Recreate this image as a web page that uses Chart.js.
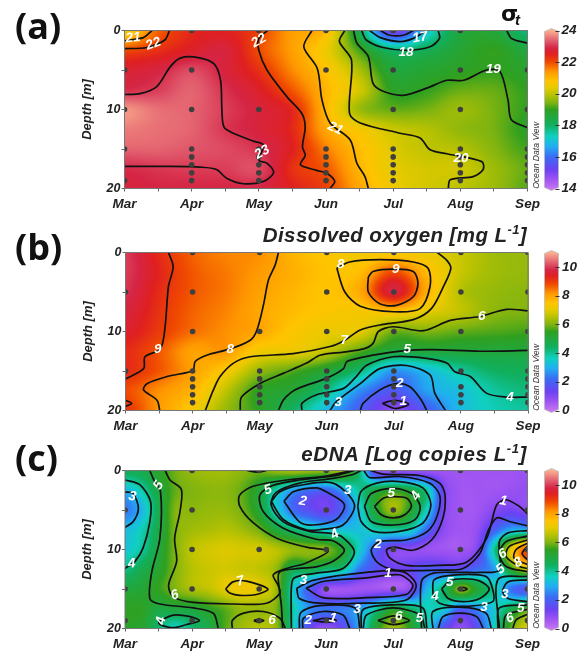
<!DOCTYPE html>
<html><head><meta charset="utf-8">
<script src="https://cdn.jsdelivr.net/npm/chart.js@4"></script>
<style>
html,body{margin:0;padding:0;background:#fff}
canvas{position:absolute;left:0;filter:blur(0.35px)}
</style></head><body>
<canvas id="a" width="585" height="216" style="top:0"></canvas>
<canvas id="b" width="585" height="218" style="top:216px"></canvas>
<canvas id="c" width="585" height="219" style="top:434px"></canvas>
<script>
const months=['Mar','Apr','May','Jun','Jul','Aug','Sep'];
const gridDepths=[0,2.5,5,7.5,10,12.5,15,17.5,20];

// sigma-t values: rows are gridDepths, columns Mar..Sep every half month
const sigmaGrid=[
[20.5,21.8,22.4,22.5,22.1,21.3,20.9,18.2,15.0,17.0,18.5,18.6,17.8],
[22.0,22.3,22.6,22.8,22.0,21.3,20.5,19.1,17.9,18.2,18.7,19.0,18.5],
[22.7,22.85,23.2,22.8,22.3,21.5,20.8,19.8,18.6,18.7,18.9,19.0,18.8],
[22.95,23.1,23.4,23.0,22.6,21.9,21.0,20.2,18.9,19.0,19.3,19.3,19.0],
[23.8,23.5,23.4,23.1,22.8,22.4,21.0,19.7,19.3,19.4,19.7,19.4,19.0],
[23.6,23.5,23.4,23.05,22.8,22.4,21.2,20.6,20.1,19.9,19.6,19.4,18.9],
[23.4,23.4,23.3,23.2,23.0,22.5,21.6,20.9,20.3,20.0,19.9,19.5,19.1],
[22.95,23.05,23.1,23.1,23.2,22.3,21.9,21.0,20.4,20.2,20.15,19.7,19.3],
[22.8,22.9,22.9,22.9,22.9,22.5,22.1,21.2,20.5,20.2,19.95,19.7,19.2]];

// dissolved oxygen values: same layout
const oxygenGrid=[
[10.0,9.2,8.6,8.3,8.2,7.7,7.4,7.2,7.3,7.1,6.7,6.3,6.2],
[10.0,9.3,8.7,8.4,8.1,7.8,7.5,7.6,8.8,7.6,6.7,6.3,6.2],
[9.9,9.2,8.7,8.4,8.0,7.7,7.5,7.9,9.7,7.8,6.5,6.2,6.1],
[9.7,9.1,8.6,8.3,7.9,7.6,7.4,7.3,7.5,7.0,6.6,6.1,6.0],
[9.5,9.0,8.5,8.2,7.9,7.4,7.1,7.0,5.9,6.0,5.8,5.7,5.6],
[9.2,8.7,8.0,8.1,7.2,7.1,6.6,5.7,4.95,5.0,5.0,5.0,5.0],
[9.2,8.7,8.0,7.3,6.2,5.7,5.1,4.2,2.7,3.2,3.9,4.4,4.5],
[8.8,8.2,7.7,6.6,5.4,5.1,4.1,2.6,1.8,2.8,3.3,3.9,4.2],
[9.1,8.1,7.3,6.2,5.4,4.4,3.1,1.9,0.9,1.9,3.2,3.7,3.9]];

// eDNA values: rows are gridDepths, columns Mar..Sep every quarter month
const ednaGrid=[
[4.6,4.7,5.3,5.9,6.2,6.3,6.3,6.1,5.9,6.2,6.4,6.3,6.2,6.2,4.2,0.9,0.7,0.7,0.6,0.6,0.6,0.6,0.6,0.6,0.7],
[3.1,3.8,4.9,5.8,6.0,6.1,6.1,5.8,5.1,3.8,2.8,2.2,2.0,2.8,4.0,4.9,5.3,4.9,3.9,1.2,0.6,0.6,0.6,0.7,0.8],
[2.3,3.1,4.7,6.0,6.1,6.2,6.2,5.9,5.1,3.6,2.2,1.6,1.3,2.0,3.4,5.2,6.3,5.3,3.6,1.1,0.6,0.6,0.95,1.2,0.9],
[3.2,3.7,4.8,6.0,6.3,6.4,6.5,6.3,5.9,5.0,4.3,3.8,3.4,3.3,3.3,3.8,3.9,3.7,2.1,0.9,0.6,0.8,1.9,2.9,3.0],
[3.4,3.9,5.0,6.0,6.6,6.8,6.9,6.85,6.8,6.55,6.2,6.1,6.0,5.2,3.5,1.9,1.0,0.9,0.7,0.6,0.6,1.1,3.9,7.0,8.8],
[4.1,4.7,5.2,6.0,6.5,6.7,6.8,6.7,6.6,6.2,4.7,4.8,4.3,4.0,2.3,1.6,1.3,1.4,1.9,1.8,1.7,2.2,2.8,5.3,6.8],
[5.0,5.1,5.5,6.0,6.4,6.6,7.0,7.2,7.0,6.3,3.6,1.9,0.7,0.6,0.6,0.6,0.55,0.9,3.1,4.3,6.1,5.1,3.9,2.3,1.7],
[5.4,5.4,4.9,5.0,5.0,5.4,5.8,6.2,6.2,6.0,3.9,2.6,2.3,2.4,2.8,3.9,5.1,4.4,3.7,3.5,2.0,2.6,3.4,4.6,5.6],
[5.3,5.2,4.3,3.6,4.3,4.8,5.7,6.3,6.5,6.2,3.8,1.5,0.8,1.5,3.0,5.2,6.3,5.4,3.8,1.7,0.8,1.6,3.6,5.8,6.9]];

// contour lines: flat month,depth pairs
const contoursSigma=[
[0,1.3,.28,.9,.41,0],
[0,2.3,.33,2.15,.6,1.2,.67,0],
[0,8.1,.23,8,.48,7.1,.68,4.6,.83,3.5,1.08,3.4,1.33,4.2,1.43,6.3,1.45,10,1.48,12.2,1.62,13,1.92,14,2.07,14.5,2.0,16.4,2.12,16.8,2.22,18,2.07,19.1,1.77,19.4,1.52,18.7,1.37,17.6,1.13,17.3,.63,17.2,0,17.2],
[2.13,0,2.0,1,2.0,2.5,2.12,5,2.42,8.4,2.64,10.5,2.69,12.2,2.65,14.7,2.69,15.8,2.62,17,2.86,17.7,3.01,18.06,3.13,19.1,3.06,20],
[2.79,0,2.67,2.06,2.87,4.8,2.94,8.8,3.06,11.7,3.36,13.85,3.46,16.8,3.58,18.5,3.63,20],
[3.28,0,3.2,1.4,3.38,3.75,3.35,10.5,3.51,11.7,4.1,13,4.4,13.6,4.55,15.1,4.8,15.6,5.32,16.6,5.34,17.6,5.19,18.5,4.85,18.9,4.82,20],
[3.41,0,3.46,1.6,3.63,3.3,3.7,6.7,3.85,7.7,4.15,8.2,4.5,7.3,4.8,6.3,5.05,6.3,5.39,5,5.59,5.2,5.71,8.8,5.76,11.3,6,12.3],
[3.53,0,3.6,1.2,3.85,2.15,4.2,2.5,4.55,2.06,4.69,1,4.67,0],
[3.65,0,3.81,.9,4.1,1.4,4.3,1,4.49,0],
[3.81,0,3.95,.6,4.15,.6,4.3,0],
[5.69,0,5.76,1,6,1.6]];

const contoursOxygen=[
[.64,0,.71,1.8,.64,4.3,.59,9.4,.52,12.2,.29,13.2,.27,14.7,0,16],
[0,18.7,.09,19.1,0,19.5],
[.51,20,.47,18.7,.27,17.4,.32,16.6,.62,15.7,.91,15.2,1.01,14.9,1.04,13.8,1.21,13,1.56,12.2,1.86,11.1,1.96,9.8,2.06,6.5,2.13,3.5,2.23,1.6,2.28,0],
[1.19,20,1.31,17.4,1.41,15.7,1.61,14,1.86,13.2,2.5,12.8,3.05,11.9,3.27,11.1,3.5,9.8,3.84,9.1,4.29,8.5,4.56,7.1,4.74,4.3,4.85,2,4.79,1,4.65,0],
[3.15,2,3.27,5,3.5,6.8,4,7.5,4.39,7.1,4.54,4.3,4.51,2,4.29,1.2,3.79,.9,3.34,1.2,3.15,2],
[3.62,3.1,3.62,5,3.79,6.5,4.04,6.7,4.29,5.6,4.36,3.9,4.29,2.4,3.99,2.1,3.69,2.4,3.62,3.1],
[1.71,20,1.73,18.3,2,16.6,2.35,15.3,2.7,14,2.9,13,3.25,12.6,3.55,12.2,3.69,11.5,3.77,10,3.99,9.4,4.44,9.9,4.84,8.6,5.28,8.1,5.68,7.2,6,7.4],
[2.28,20,2.35,18.7,2.47,17.7,2.6,17.1,3.0,15.9,3.25,14.7,3.3,13.8,3.69,13,4.19,12.4,4.58,12.3,5.28,12.5,6,12.4],
[2.63,20,2.63,19.1,2.85,18,3.25,17.2,3.44,15.7,3.59,14.3,3.99,13.2,4.49,13.4,4.79,14,4.91,15.1,5.14,15.7,5.38,17.8,5.68,18.3,6,18.3],
[3.05,20,3.14,18.9,3.5,16.6,3.79,14.7,4.19,14.3,4.54,15.5,4.61,17.8,4.77,20],
[3.5,20,3.54,19.1,3.79,17.4,4.04,16.6,4.24,17,4.41,18.7,4.49,20],
[3.83,19.1,4.02,18.7,4.22,19.2,4.02,19.75,3.83,19.1]];

const contoursEdna=[
[0,2.7,.12,2.9,.2,4.8,.12,6.5,0,7.2],
[0,1.2,.22,1.8,.38,3.9,.37,6.5,.27,9.8,.15,11.5,0,12.4],
[.37,0,.43,1.2,.53,2.7,.52,8.6,.4,12.8,.37,16.2,.52,16.9,1.02,17.4,1.32,18.1,1.39,20],
[.6,0,.67,1.2,.84,2.4,.82,5.2,.74,8.6,.77,11.5,.65,14.5,.72,16,1.02,16.7,1.61,16.9,2.11,16.8,2.31,15.5,2.28,14.5,2.21,13.2,2.41,12.4,2.7,11.7,3.03,10.2,2.7,9.7,2.27,8.6,1.91,6.6,1.71,4.5,1.71,3.1,1.91,2,2.41,1.2,3.0,.7,3.38,0],
[3.42,0,3.1,.7,2.6,1.2,2.2,1.9,2.01,3.1,2.06,5.2,2.36,7.3,2.85,8.7,3.1,8.9,3.27,10.1,3.1,11.5,2.85,12.2,2.6,12.4,2.3,12.9,2.3,15,2.33,17,2.35,20],
[2.48,20,2.48,14.8,2.52,13.6,2.85,13.0,3.25,12.4,3.42,10.3,3.25,8.5,3.1,8,2.75,7.7,2.36,6.5,2.18,4.4,2.25,2.8,2.6,1.6,3.1,1,3.4,.5,3.52,0],
[2.18,3.9,2.31,2.7,2.6,1.9,3.1,1.6,3.42,4.3,3.25,6.9,2.9,7.5,2.7,7.5,2.36,6.2,2.18,3.9],
[2.37,3.9,2.51,2.7,2.85,2.2,3.0,2.7,3.27,4.3,3.15,6.2,2.8,6.9,2.6,6.5,2.37,3.9],
[3.47,4.55,3.52,2.65,3.75,1.6,4.09,1.4,4.44,2.2,4.56,4.35,4.44,6.65,4.09,7.7,3.7,7.7,3.52,6.45,3.47,4.55],
[3.57,4.55,3.67,2.9,4,2.25,4.27,2.9,4.4,4.55,4.32,6.25,4,6.9,3.67,6.45,3.57,4.55],
[3.72,4.55,3.85,3.5,4,3.3,4.2,3.5,4.27,4.55,4.17,5.6,4,6,3.82,5.6,3.72,4.55],
[3.66,0,3.85,.46,4.39,.63,4.69,1.6,4.77,3.1,4.74,6,4.57,8.8,4.29,10.1,4.02,9.7,3.9,10.05,3.95,11.1,4.19,12,4.69,12,5.09,11.6,5.39,8.6,5.54,4.35,5.68,3.7,5.88,4.55,6,5.5],
[3.56,0,3.65,.9,4.09,.76,4.54,1.6,4.69,3.1,4.66,5.6,4.51,7.7,4.19,8.8,3.8,9,3.67,10.05,3.77,11.7,4.04,12.6,4.69,12.6,5.04,12.4,5.29,10.5,5.41,7.7,5.54,6,5.73,6.45,6,7],
[2.7,14.9,2.95,14.05,3.6,13.6,4.09,13.2,4.29,14.5,4.19,15.7,3.6,16.1,2.95,16.1,2.7,14.9],
[2.56,14.9,2.8,13.9,3.6,12.9,4.14,12.8,4.34,14.5,4.19,16.4,3.55,16.8,2.9,16.8,2.6,16.2,2.56,14.9],
[2.8,19,3,18.7,3.15,19,3,19.2,2.8,19],
[2.65,20,2.66,18.7,2.95,17.85,3.25,18.3,3.35,20],
[2.6,20,2.62,18,2.9,17.1,3.43,17.4,3.5,20],
[3.77,19,4,18.4,4.24,19,4,19.5,3.77,19],
[3.55,20,3.6,18.3,4,17.4,4.4,18.3,4.47,20],
[3.52,20,3.55,17.6,4,17,4.44,17.4,4.5,20],
[4.96,15,5.04,14.8,5.1,15,5.04,15.2,4.96,15],
[4.72,15,4.84,14,5.04,13.7,5.29,14,5.43,15,5.29,16.2,5.04,16.6,4.82,16.2,4.72,15],
[4.59,15.7,4.61,13.8,4.93,13.2,5.38,13.4,5.48,15,5.48,16.6,5.04,17.2,4.69,16.8,4.59,15.7],
[4.42,20,4.42,14,4.6,13,5,12.9,5.3,12.9,5.58,12.6,5.58,9,5.71,7.9,6,7.6],
[4.67,20,4.74,18.5,4.99,18.05,5.24,18.5,5.34,20],
[4.59,20,4.59,17.85,4.99,17.3,5.38,18.05,5.46,20],
[6,9.6,5.92,10.5,6,11.3],
[6,9.2,5.83,10,5.8,11.1,6,11.9],
[6,8.8,5.73,9.6,5.68,10.9,5.88,12.15,6,12.4],
[6,8.3,5.68,9,5.58,10.5,5.68,12.15,6,12.8],
[5.58,20,5.56,13.8,6,13.4],
[6,13.85,5.71,14.1,5.63,15.3,5.71,16.2,6,16.6],
[6,17,5.58,17.4,5.56,20],
[6,17.6,5.68,18.3,5.64,20],
[6,18.2,5.83,18.9,5.78,20],
[.5,19.1,.72,18.3,.97,18.5,1.11,19,.92,19.5,.72,19.9,.52,19.5,.5,19.1],
[1.5,15,1.61,14.1,1.81,14,2.13,15,1.96,15.7,1.71,15.8,1.56,15.5,1.5,15],
[1.6,20,1.6,19,1.77,18.05,2.06,17.85,2.31,18.7,2.39,20],
[1.92,19,1.99,18.85,2.07,19,1.99,19.2,1.92,19],
[1.82,0,1.97,.2,2.11,0]];

// contour labels: text, month, depth, tilt in degrees
const labelsSigma=[['21',.13,.93,-5],['22',.43,1.7,-20],['22',2.0,1.3,-30],['23',2.05,15.4,-30],['21',3.14,12.4,25],['20',5.01,16.2,0],['19',5.49,4.9,0],['18',4.19,2.8,0],['17',4.4,.9,-10]];
const labelsOxygen=[['9',.48,12.2,0],['8',1.56,12.2,0],['8',3.21,1.5,0],['9',4.03,2.1,0],['7',3.26,11.1,0],['6',5.31,8.1,0],['5',4.2,12.3,0],['4',5.73,18.3,0],['3',3.17,18.9,0],['2',4.09,16.5,0],['1',4.14,18.8,0]];
const labelsEdna=[['5',.5,1.9,-60],['3',.11,3.3,10],['4',.1,11.8,-5],['6',.74,15.8,-20],['4',.54,19,-80],['7',1.72,14,-15],['6',2.19,19,0],['5',2.13,2.45,-20],['2',2.65,3.9,10],['3',2.66,13.9,0],['2',2.73,19,0],['1',3.1,18.7,10],['3',3.32,2.45,0],['4',3.13,8.1,-30],['3',3.46,17.55,0],['1',3.92,13,0],['2',3.77,9.3,0],['5',3.97,2.9,0],['4',4.34,3.2,-60],['6',4.08,18.5,0],['5',4.39,18.7,0],['4',4.62,15.9,0],['5',4.84,14.1,0],['3',5.35,17.3,0],['1',5.64,3.85,10],['6',5.63,10.55,-30],['8',5.86,11.65,-30],['5',5.6,12.5,-40],['3',5.66,15.65,0],['5',5.9,17.4,0],['6',5.74,18.7,-20]];

// sampling stations: depths by month
const stationsSigma=[[5,10,15,19],[0,5,10,15,16,17,18,19],[0,10,15,16,17,18,19],[0,5,15,16,17,18,19],[0,5,10,15,16,17,18,19],[0,5,10,15,16,17,18,19],[5,10,15,16,17,18,19]];
const stationsOxygen=[[5,15],[0,5,10,15,16,17,18,19],[0,10,15,16,17,18,19],[0,5,10,15,16,17,18,19],[0,5,10,15,16,17,18,19],[0,5,10,15,17,18,19],[0,5,10,15,16,17,18,19]];
const stationsEdna=[[5,15,19],[0,5,10,15,19],[0,10,15,19],[0,5,10,15,19],[0,5,10,15,19],[0,5,10,15,19],[0,5,10,15,19]];

const paletteStops=[[0,'#c474f2'],[.06,'#9c52f2'],[.12,'#6c42f2'],[.2,'#3a6cf5'],[.27,'#20b0f0'],[.33,'#10d0c0'],[.4,'#10b060'],[.5,'#30a020'],[.545,'#80b410'],[.6,'#c0c400'],[.64,'#e8ca00'],[.68,'#ffc400'],[.74,'#ff9800'],[.8,'#f04a00'],[.85,'#e02020'],[.89,'#d52545'],[.93,'#e0566a'],[1,'#fcb090']];
const paletteRGB=paletteStops.map(s=>[s[0],parseInt(s[1].slice(1,3),16),parseInt(s[1].slice(3,5),16),parseInt(s[1].slice(5,7),16)]);
function paletteAt(t){
  t=Math.max(0,Math.min(1,t));
  for(let i=1;i<paletteRGB.length;i++){
    if(t<=paletteRGB[i][0]){
      const a=paletteRGB[i-1],b=paletteRGB[i],f=(t-a[0])/(b[0]-a[0]);
      return [a[1]+(b[1]-a[1])*f,a[2]+(b[2]-a[2])*f,a[3]+(b[3]-a[3])*f];
    }
  }
  return paletteRGB[paletteRGB.length-1].slice(1);
}
function cubic(p0,p1,p2,p3,t){
  return p1+.5*t*(p2-p0+t*(2*p0-5*p1+4*p2-p3+t*(3*(p1-p2)+p3-p0)));
}
function sampleGrid(g,m,d){
  const cols=g[0].length,rows=g.length;
  const cx=m/6*(cols-1),cy=d/20*(rows-1);
  const ix=Math.min(cols-2,Math.floor(cx)),iy=Math.min(rows-2,Math.floor(cy));
  const tx=cx-ix,ty=cy-iy,v=[];
  for(let j=-1;j<=2;j++){
    const r=g[Math.max(0,Math.min(rows-1,iy+j))];
    const c=i=>r[Math.max(0,Math.min(cols-1,ix+i))];
    v.push(cubic(c(-1),c(0),c(1),c(2),tx));
  }
  return cubic(v[0],v[1],v[2],v[3],ty);
}
const tickFont={family:'"Liberation Sans"',size:13.5,weight:'bold',style:'italic'};

function makePanel(cfg){
  const canvas=document.getElementById(cfg.id);
  const lineSets=cfg.contours.map(c=>{
    const pts=[];for(let i=0;i<c.length;i+=2)pts.push({x:c[i],y:c[i+1]});
    return {data:pts,showLine:true,tension:.3,borderColor:'#111',borderWidth:1.7,pointRadius:0,order:2};
  });
  const dots=[];
  cfg.stations.forEach((ds,m)=>ds.forEach(d=>dots.push({x:m,y:d})));
  const pluginField={
    id:'panelArt',
    beforeDatasetsDraw(chart){
      const {ctx,chartArea:A,scales:{x,y}}=chart;
      const W=Math.ceil(A.right-A.left),H=Math.ceil(A.bottom-A.top);
      const off=document.createElement('canvas');off.width=W;off.height=H;
      const oc=off.getContext('2d'),img=oc.createImageData(W,H);
      for(let py=0;py<H;py++){
        const d=y.getValueForPixel(A.top+py+.5);
        for(let px=0;px<W;px++){
          const m=x.getValueForPixel(A.left+px+.5);
          const c=paletteAt((sampleGrid(cfg.grid,m,d)-cfg.min)/(cfg.max-cfg.min));
          const k=(py*W+px)*4;
          img.data[k]=c[0];img.data[k+1]=c[1];img.data[k+2]=c[2];img.data[k+3]=255;
        }
      }
      oc.putImageData(img,0,0);
      ctx.drawImage(off,A.left,A.top);
    },
    afterDatasetsDraw(chart){
      const {ctx,chartArea:A,scales:{x,y,cb}}=chart;
      ctx.save();
      ctx.strokeStyle='#777';ctx.lineWidth=1;
      ctx.strokeRect(A.left,A.top,A.right-A.left,A.bottom-A.top);
      ctx.fillStyle='#fff';ctx.font='italic bold 13.5px "Liberation Sans"';
      ctx.textAlign='center';ctx.textBaseline='middle';
      cfg.labels.forEach(l=>{
        ctx.save();
        ctx.translate(x.getPixelForValue(l[1]),y.getPixelForValue(l[2]));
        ctx.rotate(l[3]*Math.PI/180);
        ctx.fillText(l[0],0,0);
        ctx.restore();
      });
      // colour bar
      const x0=544.5,x1=558.5,xc=(x0+x1)/2,top=cb.getPixelForValue(cfg.max),bot=cb.getPixelForValue(cfg.min);
      const g=ctx.createLinearGradient(0,bot,0,top);
      paletteStops.forEach(s=>g.addColorStop(s[0],s[1]));
      ctx.beginPath();
      ctx.moveTo(x0,top+1);ctx.lineTo(xc,top-2);ctx.lineTo(x1,top+1);
      ctx.lineTo(x1,bot-1);ctx.lineTo(xc,bot+2);ctx.lineTo(x0,bot-1);ctx.closePath();
      ctx.fillStyle=g;ctx.fill();
      ctx.strokeStyle='#bbb';ctx.lineWidth=.8;ctx.stroke();
      ctx.strokeStyle='#333';ctx.lineWidth=1;
      cb.ticks.forEach(t=>{
        const p=Math.round(cb.getPixelForValue(t.value))+.5;
        ctx.beginPath();ctx.moveTo(x1-3,p);ctx.lineTo(x1+1,p);ctx.stroke();
      });
      // Ocean Data View tag
      ctx.save();
      ctx.translate(537,A.bottom-33);ctx.rotate(-Math.PI/2);
      ctx.fillStyle='#333';ctx.font='italic 8.6px "Liberation Sans"';
      ctx.textAlign='center';ctx.textBaseline='middle';
      ctx.fillText('Ocean Data View',0,0);
      ctx.restore();
      // panel letter
      ctx.fillStyle='#111';ctx.font='bold 36px "Open Sans"';
      ctx.textAlign='left';ctx.textBaseline='alphabetic';
      ctx.fillText(cfg.letter,15,cfg.letterY);
      cfg.drawTitle(ctx);
      ctx.restore();
    }
  };
  return new Chart(canvas,{
    type:'scatter',
    data:{datasets:[
      {data:dots,backgroundColor:'#3f3f3f',borderWidth:0,pointRadius:2.8,order:1},
      ...lineSets
    ]},
    options:{
      responsive:false,animation:false,events:[],
      layout:{padding:{left:cfg.left-48,right:0,top:cfg.top,bottom:0}},
      plugins:{legend:{display:false},tooltip:{enabled:false},title:{display:false}},
      scales:{
        x:{type:'linear',min:0,max:6,position:'bottom',
          afterFit(s){s.height=canvas.height-cfg.bottom},
          border:{display:false},
          grid:{drawOnChartArea:false,tickLength:3,color:'#666',lineWidth:1},
          ticks:{stepSize:.5,autoSkip:false,maxRotation:0,padding:5,color:'#222',font:tickFont,
            callback:v=>Number.isInteger(v)?months[v]:''}},
        y:{type:'linear',reverse:true,min:0,max:20,position:'left',
          afterFit(s){s.width=48},
          border:{display:false},
          title:{display:true,text:'Depth [m]',color:'#222',padding:{top:3,bottom:0},
            font:{family:'"Liberation Sans"',size:13,weight:'bold',style:'italic'}},
          grid:{drawOnChartArea:false,tickLength:3,color:'#666',lineWidth:1},
          ticks:{stepSize:5,padding:1,color:'#222',
            font:{family:'"Liberation Sans"',size:12.5,weight:'bold',style:'italic'},
            callback:v=>v%10===0?String(v):''}},
        cb:{type:'linear',axis:'y',position:'right',min:cfg.min,max:cfg.max,
          afterFit(s){s.width=canvas.width-cfg.right;s.paddingTop=0;s.paddingBottom=0},
          border:{display:false},
          grid:{drawOnChartArea:false,drawTicks:false,tickLength:0},
          ticks:{stepSize:2,includeBounds:false,padding:34,color:'#222',font:tickFont,
            callback:v=>String(v)}}
      }
    },
    plugins:[pluginField]
  });
}
function superTitle(ctx,main,sup,tail,right,base,size,spacing){
  ctx.fillStyle='#222';
  ctx.textAlign='left';ctx.textBaseline='alphabetic';
  const f='italic bold '+size+'px "Liberation Sans"',fs='italic bold '+Math.round(size*.62)+'px "Liberation Sans"';
  ctx.letterSpacing=spacing+'px';
  ctx.font=f;const w1=ctx.measureText(main).width,w3=ctx.measureText(tail).width;
  ctx.font=fs;const w2=ctx.measureText(sup).width;
  let x=right-w1-w2-w3;
  ctx.font=f;ctx.fillText(main,x,base);x+=w1;
  ctx.font=fs;ctx.fillText(sup,x,base-8);x+=w2;
  ctx.font=f;ctx.fillText(tail,x,base);
  ctx.letterSpacing='0px';
}
makePanel({id:'a',letter:'(a)',letterY:39,left:124.5,right:527.5,top:30.5,bottom:188.5,min:14,max:24,
  grid:sigmaGrid,contours:contoursSigma,labels:labelsSigma,stations:stationsSigma,
  drawTitle(ctx){
    ctx.fillStyle='#111';ctx.textAlign='left';ctx.textBaseline='alphabetic';
    ctx.font='bold 22px "DejaVu Sans"';ctx.fillText('σ',501,21);
    ctx.font='italic bold 15px "Liberation Sans"';ctx.fillText('t',515,25);
  }});
makePanel({id:'b',letter:'(b)',letterY:44,left:125.5,right:528,top:36.5,bottom:194.5,min:0,max:11,
  grid:oxygenGrid,contours:contoursOxygen,labels:labelsOxygen,stations:stationsOxygen,
  drawTitle(ctx){superTitle(ctx,'Dissolved oxygen [mg L','-1',']',527,26,20.5,.4)}});
makePanel({id:'c',letter:'(c)',letterY:37,left:125,right:527.5,top:36.5,bottom:194.5,min:0,max:11,
  grid:ednaGrid,contours:contoursEdna,labels:labelsEdna,stations:stationsEdna,
  drawTitle(ctx){superTitle(ctx,'eDNA [Log copies L','-1',']',527,27,20.5,.6)}});
</script>
</body></html>
